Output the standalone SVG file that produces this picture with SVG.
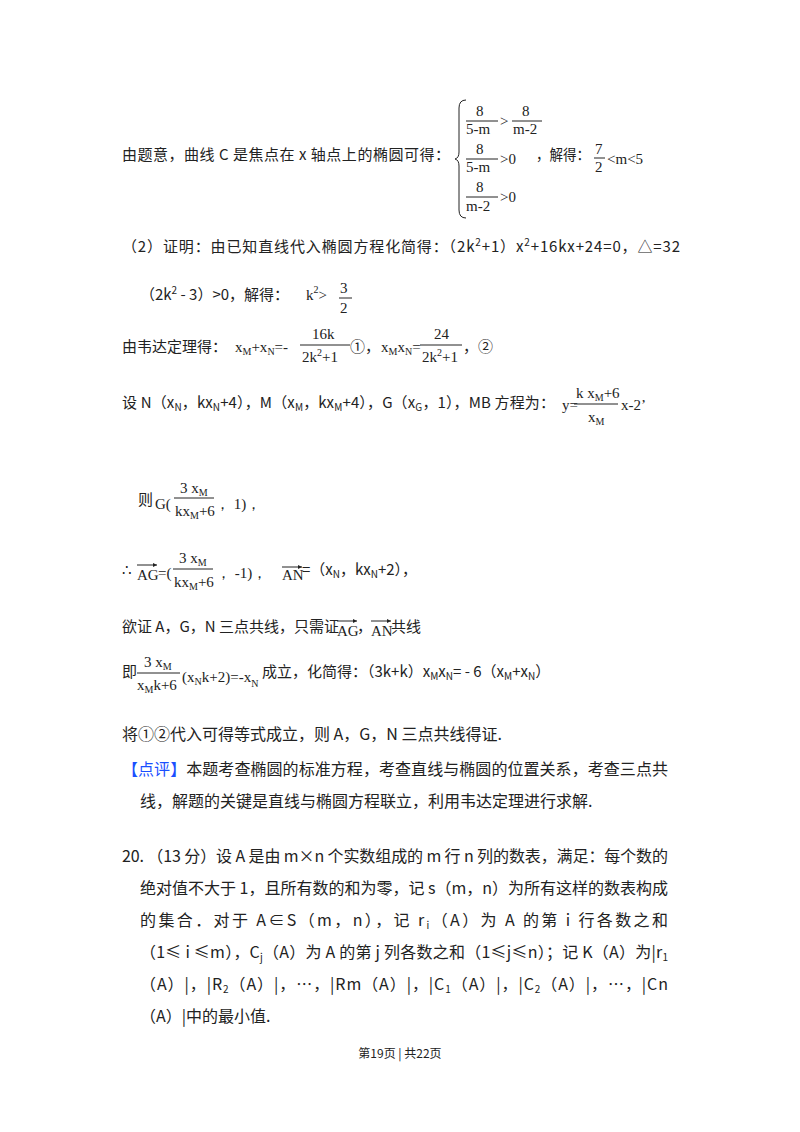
<svg xmlns="http://www.w3.org/2000/svg" width="800" height="1132" viewBox="0 0 800 1132">
<style>
.t{font-family:"Noto Sans CJK SC","Noto Sans",sans-serif;font-size:15px;fill:#222}
.b{font-size:16px}
.m{font-family:"Liberation Serif","DejaVu Serif",serif;font-size:15px;fill:#222}
.s{font-size:10px}
.bar{stroke:#222;stroke-width:1}
.blue{fill:#1a4fff}
</style>
<rect width="800" height="1132" fill="#fff"/>
<g id="line1">
<text class="t" x="122" y="160" textLength="328" lengthAdjust="spacing">由题意，曲线 C 是焦点在 x 轴点上的椭圆可得：</text>
<path d="M466 100 Q459 100 459 108 L459 152 Q459 158 455 159 Q459 160 459 166 L459 210 Q459 218 466 218" fill="none" stroke="#222" stroke-width="1"/>
<text class="m" x="476" y="116">8</text><line class="bar" x1="466" y1="121" x2="498" y2="121"/><text class="m" x="466" y="134">5-m</text>
<text class="m" x="500" y="126">&gt;</text>
<text class="m" x="522" y="116">8</text><line class="bar" x1="512" y1="121" x2="542" y2="121"/><text class="m" x="513" y="134">m-2</text>
<text class="m" x="476" y="154">8</text><line class="bar" x1="466" y1="159" x2="498" y2="159"/><text class="m" x="466" y="172">5-m</text>
<text class="m" x="500" y="164">&gt;0</text>
<text class="m" x="476" y="192">8</text><line class="bar" x1="466" y1="197" x2="498" y2="197"/><text class="m" x="466" y="211">m-2</text>
<text class="m" x="500" y="202">&gt;0</text>
<text class="t" x="536" y="160" textLength="54" lengthAdjust="spacingAndGlyphs">，解得：</text>
<text class="m" x="595" y="154">7</text><line class="bar" x1="594" y1="158" x2="605" y2="158"/><text class="m" x="595" y="172">2</text>
<text class="m" x="607" y="164">&lt;m&lt;5</text>
</g>
<g id="line2">
<text class="t" x="122" y="252" textLength="558" lengthAdjust="spacing">（2）证明：由已知直线代入椭圆方程化简得：（2k<tspan class="s" dy="-6">2</tspan><tspan dy="6">+1）x</tspan><tspan class="s" dy="-6">2</tspan><tspan dy="6">+16kx+24=0，△=32</tspan></text>
<text class="t" x="140" y="300">（2k<tspan class="s" dy="-6">2</tspan><tspan dy="6"> - 3）&gt;0，解得：</tspan></text>
<text class="m" x="306" y="300">k<tspan class="s" dy="-7">2</tspan><tspan dy="7">&gt;</tspan></text>
<text class="m" x="340" y="293">3</text><line class="bar" x1="339" y1="298" x2="352" y2="298"/><text class="m" x="340" y="313">2</text>
</g>
<g id="line3">
<text class="t" x="122" y="352">由韦达定理得：</text>
<text class="m" x="235" y="352">x<tspan class="s" dy="3">M</tspan><tspan dy="-3">+x</tspan><tspan class="s" dy="3">N</tspan><tspan dy="-3">=-</tspan></text>
<text class="m" x="312" y="339">16k</text><line class="bar" x1="300" y1="345" x2="350" y2="345"/><text class="m" x="302" y="362">2k<tspan class="s" dy="-6">2</tspan><tspan dy="6">+1</tspan></text>
<text class="t" x="350" y="352">①，</text>
<text class="m" x="381" y="352">x<tspan class="s" dy="3">M</tspan><tspan dy="-3">x</tspan><tspan class="s" dy="3">N</tspan><tspan dy="-3">=</tspan></text>
<text class="m" x="434" y="339">24</text><line class="bar" x1="420" y1="345" x2="462" y2="345"/><text class="m" x="422" y="362">2k<tspan class="s" dy="-6">2</tspan><tspan dy="6">+1</tspan></text>
<text class="t" x="463" y="352">，②</text>
</g>
<g id="line4">
<text class="t" x="122" y="408" textLength="433" lengthAdjust="spacing">设 N（x<tspan class="s" dy="3">N</tspan><tspan dy="-3">，kx</tspan><tspan class="s" dy="3">N</tspan><tspan dy="-3">+4），M（x</tspan><tspan class="s" dy="3">M</tspan><tspan dy="-3">，kx</tspan><tspan class="s" dy="3">M</tspan><tspan dy="-3">+4），G（x</tspan><tspan class="s" dy="3">G</tspan><tspan dy="-3">，1），MB 方程为：</tspan></text>
<text class="m" x="562" y="410">y=</text>
<text class="m" x="576" y="398">k x<tspan class="s" dy="3">M</tspan><tspan dy="-3">+6</tspan></text><line class="bar" x1="574" y1="404" x2="618" y2="404"/><text class="m" x="588" y="422">x<tspan class="s" dy="3">M</tspan></text>
<text class="m" x="621" y="410">x-2’</text>
</g>
<g id="line5">
<text class="t" x="138" y="505">则</text>
<text class="m" x="155" y="509">G(</text>
<text class="m" x="180" y="493">3 x<tspan class="s" dy="3">M</tspan></text><line class="bar" x1="174" y1="498" x2="214" y2="498"/><text class="m" x="175" y="516">kx<tspan class="s" dy="3">M</tspan><tspan dy="-3">+6</tspan></text>
<text class="m" x="215" y="509">， 1)，</text>
</g>
<g id="line6">
<text class="m" x="122" y="575">∴</text>
<text class="m" x="137" y="580">AG</text><line class="bar" x1="137" y1="565" x2="157" y2="565"/><path d="M157 565 l-4 -2 l0 4z" fill="#222"/>
<text class="m" x="158" y="578">=(</text>
<text class="m" x="179" y="563">3 x<tspan class="s" dy="3">M</tspan></text><line class="bar" x1="173" y1="569" x2="213" y2="569"/><text class="m" x="174" y="587">kx<tspan class="s" dy="3">M</tspan><tspan dy="-3">+6</tspan></text>
<text class="m" x="216" y="578">，  -1)，</text>
<text class="m" x="282" y="580">AN</text><line class="bar" x1="282" y1="567" x2="302" y2="567"/><path d="M302 567 l-4 -2 l0 4z" fill="#222"/>
<text class="t" x="302" y="575">=（x<tspan class="s" dy="3">N</tspan><tspan dy="-3">，kx</tspan><tspan class="s" dy="3">N</tspan><tspan dy="-3">+2），</tspan></text>
</g>
<g id="line7">
<text class="t" x="122" y="632">欲证 A，G，N 三点共线，只需证</text>
<text class="m" x="337" y="636">AG</text><line class="bar" x1="337" y1="621" x2="357" y2="621"/><path d="M357 621 l-4 -2 l0 4z" fill="#222"/>
<text class="t" x="357" y="632">，</text>
<text class="m" x="371" y="636">AN</text><line class="bar" x1="371" y1="621" x2="391" y2="621"/><path d="M391 621 l-4 -2 l0 4z" fill="#222"/>
<text class="t" x="391" y="632">共线</text>
</g>
<g id="line8">
<text class="t" x="122" y="677">即</text>
<text class="m" x="144" y="667">3 x<tspan class="s" dy="3">M</tspan></text><line class="bar" x1="137" y1="673" x2="180" y2="673"/><text class="m" x="137" y="690">x<tspan class="s" dy="3">M</tspan><tspan dy="-3">k+6</tspan></text>
<text class="m" x="182" y="682">(x<tspan class="s" dy="3">N</tspan><tspan dy="-3">k+2)=-x</tspan><tspan class="s" dy="5">N</tspan></text>
<text class="t" x="262" y="677">成立，化简得：（3k+k）x<tspan class="s" dy="3">M</tspan><tspan dy="-3">x</tspan><tspan class="s" dy="3">N</tspan><tspan dy="-3">= - 6（x</tspan><tspan class="s" dy="3">M</tspan><tspan dy="-3">+x</tspan><tspan class="s" dy="3">N</tspan><tspan dy="-3">）</tspan></text>
</g>
<g id="line9">
<text class="t b" x="122" y="740">将①②代入可得等式成立，则 A，G，N 三点共线得证.</text>
<text class="t b" x="122" y="775" textLength="546" lengthAdjust="spacing"><tspan class="blue">【点评】</tspan>本题考查椭圆的标准方程，考查直线与椭圆的位置关系，考查三点共</text>
<text class="t b" x="140" y="807">线，解题的关键是直线与椭圆方程联立，利用韦达定理进行求解.</text>
</g>
<g id="q20">
<text class="t b" x="122" y="862" textLength="546" lengthAdjust="spacing">20. （13 分）设 A 是由 m×n 个实数组成的 m 行 n 列的数表，满足：每个数的</text>
<text class="t b" x="140" y="894" textLength="528" lengthAdjust="spacing">绝对值不大于 1，且所有数的和为零，记 s（m，n）为所有这样的数表构成</text>
<text class="t b" x="140" y="926" textLength="528" lengthAdjust="spacing">的集合．对于 A∈S（m，n），记 r<tspan class="s" dy="3">i</tspan><tspan dy="-3">（A）为 A 的第 i 行各数之和</tspan></text>
<text class="t b" x="140" y="958" textLength="528" lengthAdjust="spacing">（1≤ i ≤m），C<tspan class="s" dy="3">j</tspan><tspan dy="-3">（A）为 A 的第 j 列各数之和（1≤j≤n）；记 K（A）为|r</tspan><tspan class="s" dy="3">1</tspan></text>
<text class="t b" x="140" y="990" textLength="528" lengthAdjust="spacing">（A）|，|R<tspan class="s" dy="3">2</tspan><tspan dy="-3">（A）|，…，|Rm（A）|，|C</tspan><tspan class="s" dy="3">1</tspan><tspan dy="-3">（A）|，|C</tspan><tspan class="s" dy="3">2</tspan><tspan dy="-3">（A）|，…，|Cn</tspan></text>
<text class="t b" x="140" y="1022">（A）|中的最小值.</text>
</g>
<text class="t" x="400" y="1058" text-anchor="middle" style="font-size:12px">第19页 | 共22页</text>
</svg>
